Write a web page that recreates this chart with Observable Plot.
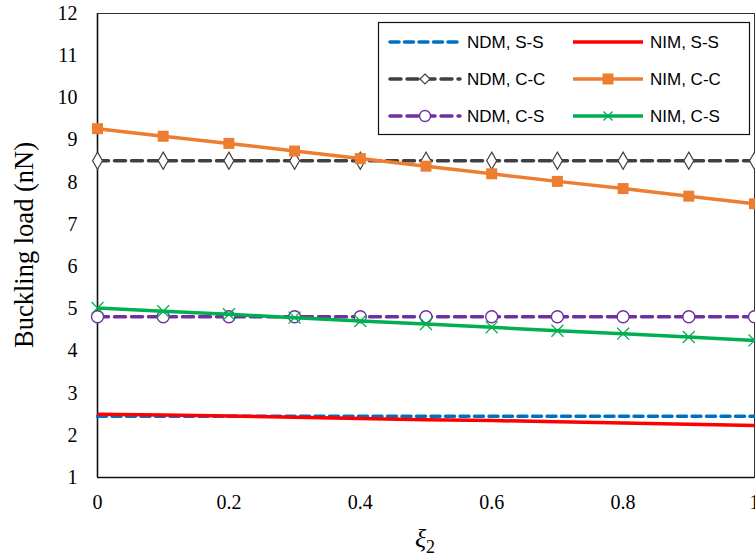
<!DOCTYPE html>
<html><head><meta charset="utf-8">
<script src="https://cdn.jsdelivr.net/npm/d3@7"></script>
<script src="https://cdn.jsdelivr.net/npm/@observablehq/plot@0.6"></script>
<style>
body{margin:0;background:#fff;}
#chart{position:relative;width:755px;height:556px;overflow:hidden;}
</style>
</head><body><div id="chart"></div>
<script>
// ---- data ----
const xi2 = [0, 0.1, 0.2, 0.3, 0.4, 0.5, 0.6, 0.7, 0.8, 0.9, 1];
const ndmSS = [2.45, 2.45, 2.45, 2.45, 2.45, 2.45, 2.45, 2.45, 2.45, 2.45, 2.45];
const nimSS = [2.50, 2.48, 2.46, 2.43, 2.40, 2.37, 2.35, 2.32, 2.29, 2.26, 2.23];
const ndmCC = [8.51, 8.51, 8.51, 8.51, 8.51, 8.51, 8.51, 8.51, 8.51, 8.51, 8.51];
const nimCC = [9.27, 9.09, 8.92, 8.74, 8.56, 8.38, 8.20, 8.02, 7.85, 7.67, 7.49];
const ndmCS = [4.81, 4.81, 4.81, 4.81, 4.81, 4.81, 4.81, 4.81, 4.81, 4.81, 4.81];
const nimCS = [5.02, 4.94, 4.87, 4.79, 4.71, 4.64, 4.56, 4.48, 4.41, 4.33, 4.25];
const xTicks = [0, 0.2, 0.4, 0.6, 0.8, 1];
const yTicks = [1, 2, 3, 4, 5, 6, 7, 8, 9, 10, 11, 12];
const seriesNames = ["NDM, S-S", "NIM, S-S", "NDM, C-C", "NIM, C-C", "NDM, C-S", "NIM, C-S"];
const xTitle = "ξ";
const xTitleSub = "2";
const yTitle = "Buckling load (nN)";

// ---- styles ----
const styles = {
  "NDM, S-S": {color: "#0070C0", dash: "9,5.5", marker: null},
  "NIM, S-S": {color: "#FF0000", dash: null, marker: null},
  "NDM, C-C": {color: "#404040", dash: "11,6", marker: "diamond"},
  "NIM, C-C": {color: "#ED7D31", dash: null, marker: "square"},
  "NDM, C-S": {color: "#7030A0", dash: "11,6", marker: "circle"},
  "NIM, C-S": {color: "#00B050", dash: null, marker: "times"}
};
const allSeries = [ndmSS, nimSS, ndmCC, nimCC, ndmCS, nimCS];
const rows = [];
seriesNames.forEach((name, i) => xi2.forEach((x, j) => rows.push({series: name, x, y: allSeries[i][j]})));

const marks = [
  Plot.frame({stroke: "#333", strokeWidth: 1}),
  Plot.ruleX([0], {stroke: "#111", strokeWidth: 1.6}),
  Plot.ruleY([1], {stroke: "#111", strokeWidth: 1.6})
];
for (const name of seriesNames) {
  const s = styles[name];
  const data = rows.filter(d => d.series === name);
  marks.push(Plot.line(data, {x: "x", y: "y", stroke: s.color, strokeWidth: 3.5,
    strokeDasharray: s.dash || undefined, strokeLinecap: s.dash ? "round" : "butt"}));
  if (s.marker === "square") {
    marks.push(Plot.dot(data, {x: "x", y: "y", symbol: "square", r: 6.2, fill: s.color, stroke: "none"}));
  } else if (s.marker === "diamond") {
    marks.push(Plot.dot(data, {x: "x", y: "y", symbol: "diamond", r: 5.2, fill: "white", stroke: s.color, strokeWidth: 1.2}));
  } else if (s.marker === "circle") {
    marks.push(Plot.dot(data, {x: "x", y: "y", symbol: "circle", r: 6, fill: "white", stroke: s.color, strokeWidth: 1.4}));
  } else if (s.marker === "times") {
    marks.push(Plot.dot(data, {x: "x", y: "y", symbol: "times", r: 5.5, fill: "none", stroke: s.color, strokeWidth: 1.3}));
  }
}

const plot = Plot.plot({
  width: 755, height: 556,
  marginLeft: 97, marginRight: 1, marginTop: 13, marginBottom: 79,
  style: {fontFamily: "'Liberation Serif', 'Times New Roman', serif", fontSize: "20px", color: "#000", background: "#fff"},
  x: {domain: [0, 1], ticks: xTicks, tickFormat: d => String(d), tickSize: 0, tickPadding: 17, label: null},
  y: {domain: [1, 12], ticks: yTicks, tickFormat: d => String(d), tickSize: 0, tickPadding: 20, label: null},
  marks
});
document.getElementById("chart").appendChild(plot);

// ---- titles ----
const svg = d3.select(plot);
svg.append("text")
  .attr("transform", "translate(33,245) rotate(-90)")
  .attr("text-anchor", "middle")
  .style("font-family", "'Liberation Serif', serif")
  .style("font-size", "26.5px")
  .attr("fill", "#000")
  .text(yTitle);
const xt = svg.append("text")
  .attr("x", 425).attr("y", 547)
  .attr("text-anchor", "middle")
  .style("font-family", "'Liberation Serif', serif")
  .style("font-size", "26px")
  .attr("fill", "#000");
xt.append("tspan").style("font-style", "italic").text(xTitle);
xt.append("tspan").attr("dy", 6).style("font-size", "18px").text(xTitleSub);

// ---- legend ----
const lg = svg.append("g").style("font-family", "'Liberation Sans', Arial, sans-serif").style("font-size", "17px");
lg.append("rect").attr("x", 378.5).attr("y", 22.5).attr("width", 371).attr("height", 112)
  .attr("fill", "white").attr("stroke", "#111").attr("stroke-width", 1.2);
const rowY = [42, 79, 116];
const colX = [[390, 460, 467], [573, 643, 650]];
const legendOrder = [["NDM, S-S", "NIM, S-S"], ["NDM, C-C", "NIM, C-C"], ["NDM, C-S", "NIM, C-S"]];
legendOrder.forEach((pair, r) => pair.forEach((name, c) => {
  const s = styles[name];
  const [x0, x1, tx] = colX[c];
  const y = rowY[r];
  lg.append("line").attr("x1", x0).attr("x2", x1).attr("y1", y).attr("y2", y)
    .attr("stroke", s.color).attr("stroke-width", 3.5)
    .attr("stroke-dasharray", s.dash ? s.dash : null)
    .attr("stroke-linecap", s.dash ? "round" : "butt");
  const cx = (x0 + x1) / 2;
  if (s.marker === "square") {
    lg.append("rect").attr("x", cx - 5.5).attr("y", y - 5.5).attr("width", 11).attr("height", 11).attr("fill", s.color);
  } else if (s.marker === "diamond") {
    lg.append("path").attr("d", `M${cx},${y-5}L${cx+5},${y}L${cx},${y+5}L${cx-5},${y}Z`).attr("fill", "white").attr("stroke", s.color).attr("stroke-width", 1.2);
  } else if (s.marker === "circle") {
    lg.append("circle").attr("cx", cx).attr("cy", y).attr("r", 5.5).attr("fill", "white").attr("stroke", s.color).attr("stroke-width", 1.4);
  } else if (s.marker === "times") {
    lg.append("path").attr("d", `M${cx-4.5},${y-4.5}L${cx+4.5},${y+4.5}M${cx-4.5},${y+4.5}L${cx+4.5},${y-4.5}`).attr("stroke", s.color).attr("stroke-width", 1.3);
  }
  lg.append("text").attr("x", tx).attr("y", y).attr("dy", "0.35em").attr("text-anchor", "start").attr("fill", "#000").text(name);
}));
</script>
</body></html>
